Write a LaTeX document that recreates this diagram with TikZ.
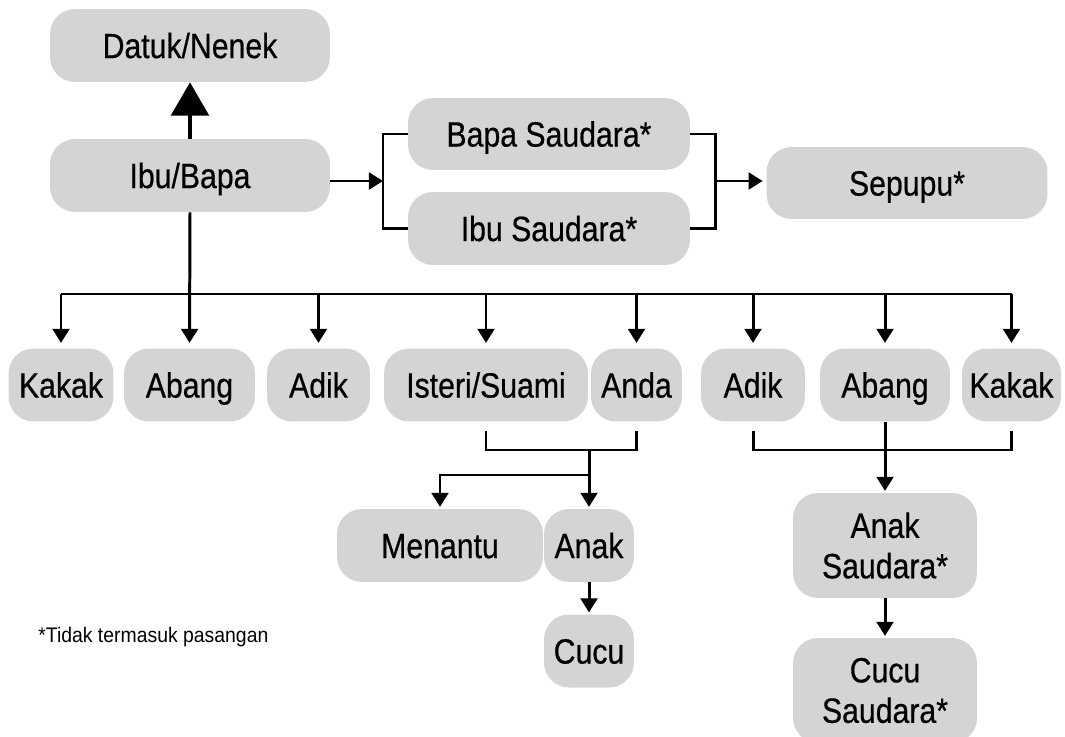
\documentclass[tikz,border=0pt]{standalone}
\usepackage{fontspec}
\setmainfont{Liberation Sans}[FakeStretch=0.86,FakeBold=0.5]
\newfontfamily\notefont{Liberation Sans}[FakeStretch=0.92]
\usetikzlibrary{arrows.meta}
\definecolor{boxgray}{RGB}{211,212,214}
\tikzset{
  kinbase/.style={fill=boxgray, rounded corners=0.5cm, inner sep=0pt,
    minimum height=1.46cm, align=center,
    font=\fontsize{20}{23}\selectfont},
  kin/.style={kinbase, text height=14.3pt, text depth=0pt},
  link/.style={line width=1.7pt},
  >={Triangle[width=9.5pt,length=8pt]}
}
\begin{document}
\begin{tikzpicture}[x=0.02cm,y=-0.02cm]
\useasboundingbox (0,0) rectangle (1065,737);
\node[kin, minimum width=5.6cm] (datuk) at (190,45.5) {Datuk/Nenek};
\node[kin, minimum width=5.6cm] (ibubapa) at (190,175.5) {Ibu/Bapa};
\node[kin, minimum width=5.64cm, minimum height=1.44cm] (bapasdr) at (549,134) {Bapa Saudara*};
\node[kin, minimum width=5.64cm] (ibusdr) at (549,228.5) {Ibu Saudara*};
\node[kin, minimum width=5.62cm, minimum height=1.44cm] (sepupu) at (907,183) {Sepupu*};
\node[kin, minimum width=2.1cm] (kakakL) at (61,385) {Kakak};
\node[kin, minimum width=2.62cm] (abangL) at (189.5,385) {Abang};
\node[kin, minimum width=2.06cm] (adikL) at (318.5,385) {Adik};
\node[kin, minimum width=4.08cm] (isteri) at (486,385) {Isteri/Suami};
\node[kin, minimum width=1.82cm] (anda) at (636.5,385) {Anda};
\node[kin, minimum width=2.08cm] (adikR) at (753,385) {Adik};
\node[kin, minimum width=2.6cm] (abangR) at (885,385) {Abang};
\node[kin, minimum width=1.98cm] (kakakR) at (1011.5,385) {Kakak};
\node[kin, minimum width=4.12cm] (menantu) at (440,545.5) {Menantu};
\node[kin, minimum width=1.8cm] (anak) at (589,545.5) {Anak};
\node[kin, minimum width=1.8cm] (cucu) at (589,651) {Cucu};
\node[kinbase, minimum width=3.68cm, minimum height=2.1cm] (anaksdr) at (885,545.5) {Anak\\Saudara*};
\node[kinbase, minimum width=3.68cm, minimum height=2.1cm] (cucusdr) at (885,690.5) {Cucu\\Saudara*};
\node[anchor=base west, inner sep=0pt, font=\notefont\fontsize{12}{14}\selectfont] (note) at (38,642) {*Tidak termasuk pasangan};
\coordinate (lbrk) at (383,181);
\coordinate (rbrk) at (715,181);
\coordinate (bus) at (0,294);
\coordinate (cpl) at (589,450);
\coordinate (brn) at (589,475);
\coordinate (sib) at (885,450);
\draw[line width=2pt, -{Triangle[width=21.5pt,length=19pt]}] (ibubapa.north) -- (datuk.south);
\draw[link,->] (ibubapa.east |- lbrk) -- (lbrk);
\draw[link] (bapasdr.west) -- (bapasdr.west -| lbrk) -- (ibusdr.west -| lbrk) -- (ibusdr.west);
\draw[link] (bapasdr.east) -- (bapasdr.east -| rbrk) -- (ibusdr.east -| rbrk) -- (ibusdr.east);
\draw[link,->,shorten >=2pt] (rbrk) -- (sepupu.west |- rbrk);
\draw[link,->,shorten >=3pt] (ibubapa.south) -- (abangL.north);
\draw[link] (kakakL.north |- bus) -- (kakakR.north |- bus);
\foreach \n in {kakakL,adikL,isteri,anda,adikR,abangR,kakakR}
  \draw[link,->,shorten >=3pt] (\n.north |- bus) -- (\n.north);
\draw[link,shorten <=5pt,shorten >=5pt] (isteri.south) |- (cpl) -| (anda.south);
\draw[link,->,shorten >=1pt] (cpl) -- (anak.north);
\draw[link,->,shorten >=1pt] (brn) -| (menantu.north);
\draw[link,->,shorten >=1pt] (anak.south) -- (cucu.north);
\draw[link,shorten <=5pt,shorten >=5pt] (adikR.south) |- (sib) -| (kakakR.south);
\draw[link,->,shorten >=1pt] (abangR.south) -- (anaksdr.north);
\draw[link,->,shorten >=1pt] (anaksdr.south) -- (cucusdr.north);
\end{tikzpicture}
\end{document}
